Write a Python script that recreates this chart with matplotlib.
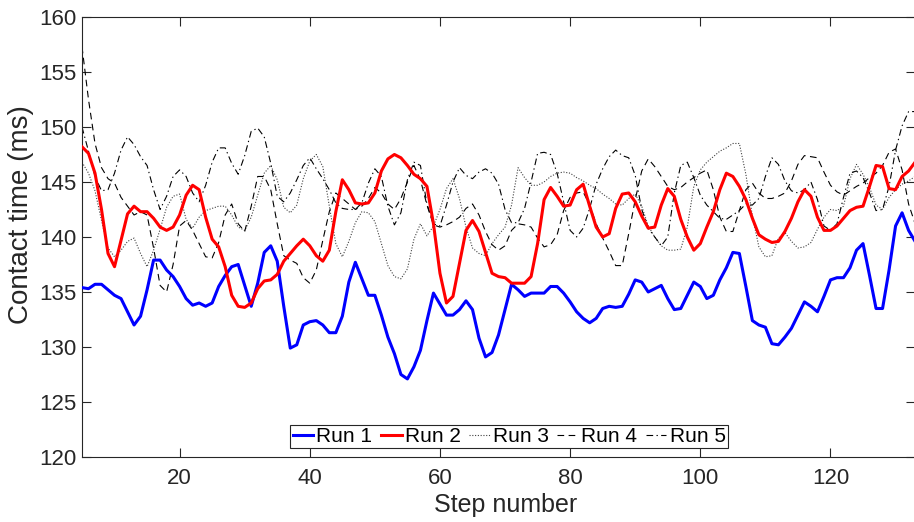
import numpy as np
import matplotlib
matplotlib.use("Agg")
import matplotlib.pyplot as plt

# step numbers shared by every run
steps = np.arange(5, 134)

# contact time per step (ms)
run1 = [135.4, 135.3, 135.7, 135.7, 135.2, 134.7, 134.4, 133.2, 132.0, 132.8,
        135.2, 137.9, 137.9, 137.0, 136.4, 135.5, 134.4, 133.8, 134.0, 133.7,
        134.0, 135.5, 136.5, 137.3, 137.5, 135.6, 133.7, 135.8, 138.6, 139.2,
        137.8, 133.7, 129.9, 130.2, 132.0, 132.3, 132.4, 132.0, 131.3, 131.3,
        132.8, 135.9, 137.7, 136.2, 134.7, 134.7, 132.9, 130.9, 129.4, 127.5,
        127.1, 128.2, 129.7, 132.4, 134.9, 133.9, 132.9, 132.9, 133.4, 134.2,
        133.4, 130.8, 129.1, 129.5, 131.1, 133.4, 135.7, 135.2, 134.6, 134.9,
        134.9, 134.9, 135.5, 135.5, 134.9, 134.1, 133.2, 132.6, 132.2, 132.6,
        133.5, 133.7, 133.6, 133.7, 134.8, 136.1, 135.9, 135.0, 135.3, 135.6,
        134.4, 133.4, 133.5, 134.7, 135.9, 135.5, 134.4, 134.7, 136.1, 137.2,
        138.6, 138.5, 135.5, 132.4, 132.0, 131.8, 130.3, 130.2, 130.9, 131.7,
        132.9, 134.1, 133.7, 133.2, 134.6, 136.1, 136.3, 136.3, 137.2, 138.8,
        139.4, 136.5, 133.5, 133.5, 137.0, 141.0, 142.2, 140.6, 139.6]

run2 = [148.2, 147.6, 145.8, 142.5, 138.5, 137.3, 139.7, 142.1, 142.8, 142.3,
        142.3, 141.7, 140.9, 140.6, 140.9, 142.0, 143.8, 144.7, 144.3, 141.8,
        139.8, 139.1, 137.3, 134.7, 133.7, 133.6, 134.0, 135.3, 136.0, 136.1,
        136.6, 137.8, 138.5, 139.2, 139.8, 139.2, 138.3, 137.8, 138.8, 142.3,
        145.2, 144.3, 143.1, 143.0, 143.1, 144.0, 146.0, 147.1, 147.5, 147.2,
        146.5, 145.7, 145.3, 144.6, 141.2, 136.7, 134.0, 134.6, 137.6, 140.6,
        141.5, 140.5, 138.6, 136.7, 136.4, 136.3, 135.8, 135.8, 135.8, 136.4,
        139.4, 143.4, 144.5, 143.7, 142.8, 142.9, 144.3, 144.8, 142.8, 140.9,
        140.0, 140.3, 142.6, 143.9, 144.0, 143.2, 141.9, 140.8, 140.9, 142.9,
        144.4, 143.7, 141.6, 140.0, 138.8, 139.4, 140.9, 142.3, 144.3, 145.8,
        145.5, 144.6, 143.4, 141.7, 140.2, 139.8, 139.5, 139.6, 140.5, 141.7,
        143.2, 144.3, 143.7, 141.8, 140.6, 140.6, 141.0, 141.7, 142.4, 142.7,
        142.8, 144.6, 146.5, 146.4, 144.4, 144.3, 145.5, 146.0, 146.8]

run3 = [146.8, 145.8, 144.2, 141.5, 139.0, 138.2, 138.8, 139.6, 139.9, 138.5,
        137.3, 138.8, 140.7, 142.7, 143.7, 143.9, 141.6, 140.8, 141.8, 142.4,
        142.6, 142.8, 142.8, 142.0, 140.9, 140.6, 141.8, 143.8, 145.8, 146.5,
        145.2, 142.7, 142.2, 142.9, 145.3, 146.9, 147.5, 146.4, 142.8, 139.4,
        138.2, 139.6, 141.3, 142.3, 142.2, 141.4, 139.4, 137.4, 136.4, 136.2,
        137.1, 139.8, 141.2, 140.1, 141.0, 142.5, 144.4, 145.3, 143.5, 140.9,
        139.0, 138.5, 138.3, 139.4, 140.2, 140.9, 142.9, 146.3, 145.4, 144.7,
        144.7, 145.0, 145.5, 145.8, 145.9, 145.8, 145.4, 145.1, 144.7, 144.4,
        143.9, 143.5, 143.0, 142.9, 143.5, 143.9, 142.8, 141.0, 140.0, 139.2,
        138.8, 138.8, 138.9, 140.9, 144.6, 146.1, 146.8, 147.3, 147.8, 148.1,
        148.5, 148.5, 145.7, 141.9, 139.1, 138.2, 138.3, 139.9, 140.4, 139.6,
        139.0, 139.1, 139.5, 140.7, 141.8, 142.5, 142.4, 142.8, 145.3, 146.6,
        145.7, 144.5, 142.9, 142.5, 143.6, 144.3, 144.8, 145.1, 145.5]

run4 = [157.3, 152.5, 148.5, 146.3, 145.3, 144.9, 143.6, 142.8, 142.0, 142.3,
        142.0, 139.0, 135.6, 135.0, 137.5, 141.0, 141.5, 140.6, 139.4, 138.2,
        138.1, 139.5, 142.0, 143.0, 141.2, 140.5, 142.8, 145.5, 145.5, 144.3,
        141.2, 138.3, 137.9, 137.6, 136.3, 135.8, 137.0, 139.7, 142.3, 144.0,
        143.5, 143.0, 142.5, 142.8, 143.5, 144.5, 144.0, 143.0, 142.5, 143.5,
        145.0, 146.5, 145.2, 142.9, 141.1, 140.9, 141.1, 141.4, 141.8, 142.6,
        143.0, 142.0, 140.5, 139.3, 138.8, 139.2, 140.6, 141.2, 141.1, 140.9,
        139.9, 139.1, 139.3, 140.2, 142.4, 143.6, 144.0, 144.1, 142.9, 141.2,
        139.9, 138.7, 137.4, 137.4, 140.3, 143.4, 146.0, 147.1, 146.4, 145.5,
        144.6, 144.3, 144.5, 145.0, 145.4, 145.8, 146.1, 144.3, 141.8, 140.5,
        140.5, 142.4, 144.3, 144.9, 144.0, 143.5, 143.5, 143.7, 144.0, 145.1,
        146.6, 147.4, 147.3, 147.2, 145.9, 144.7, 144.1, 143.8, 144.2, 144.6,
        144.9, 145.4, 145.8, 146.5, 147.7, 148.0, 146.1, 143.0, 141.2]

run5 = [150.0, 147.8, 145.5, 144.2, 144.3, 145.8, 147.9, 149.1, 148.4, 147.3,
        146.5, 144.3, 142.5, 143.7, 145.5, 146.1, 145.5, 144.0, 143.2, 144.7,
        146.8, 148.1, 148.1, 146.7, 145.7, 147.4, 149.6, 149.9, 149.1, 146.7,
        143.7, 143.2, 144.0, 145.2, 146.5, 147.2, 146.2, 145.3, 144.3, 143.1,
        142.6, 142.5, 142.5, 143.1, 144.9, 146.2, 145.5, 142.8, 141.1, 142.2,
        145.2, 146.8, 146.5, 143.0, 141.2, 141.0, 142.9, 145.0, 146.3, 145.6,
        145.3, 145.9, 146.2, 145.8, 144.8, 142.5, 141.3, 141.3, 142.6, 145.0,
        147.6, 147.7, 147.5, 145.8, 143.2, 140.6, 140.0, 140.8, 142.6, 144.8,
        146.2, 147.3, 147.9, 147.4, 147.2, 145.6, 142.5, 140.8, 140.0, 139.2,
        140.0, 144.0, 146.5, 146.8, 145.4, 143.8, 142.9, 142.3, 141.7, 141.6,
        142.0, 142.4, 143.0, 142.9, 143.5, 145.5, 147.2, 146.6, 145.1, 144.2,
        144.0, 144.3, 145.0, 143.4, 141.0, 140.6, 141.2, 143.6, 145.8, 146.0,
        145.4, 144.0, 142.4, 142.5, 144.6, 147.9, 150.1, 151.4, 151.4]

labels = ['Run 1', 'Run 2', 'Run 3', 'Run 4', 'Run 5']
xticks = [20, 40, 60, 80, 100, 120]
yticks = [120, 125, 130, 135, 140, 145, 150, 155, 160]

plt.rcParams['font.family'] = ['Liberation Sans', 'DejaVu Sans']
ink = '#262626'

fig = plt.figure(figsize=(9.14, 5.22), dpi=100)
ax = fig.add_axes([0.0897, 0.1245, 0.9115, 0.843])

ax.plot(steps, run1, color='#0000ff', lw=2.2, label=labels[0], zorder=5)
ax.plot(steps, run2, color='#ff0000', lw=2.2, label=labels[1], zorder=5)
ax.plot(steps, run3, color='0.25', lw=0.8, ls=(0, (1, 1.5)), label=labels[2])
ax.plot(steps, run4, color='k', lw=0.8, ls=(0, (6, 4)), label=labels[3])
ax.plot(steps, run5, color='k', lw=0.8, ls=(0, (6, 3, 1.2, 3)), label=labels[4])

ax.set_xlim(5, 133)
ax.set_ylim(120, 160)
ax.set_xticks(xticks)
ax.set_yticks(yticks)

ax.tick_params(direction='in', length=6.5, width=0.8, colors=ink,
               top=True, right=True, labelsize=16)
ax.tick_params(axis='x', pad=8)
ax.tick_params(axis='y', pad=4)
for sp in ax.spines.values():
    sp.set_color(ink)
    sp.set_linewidth(0.8)

ax.set_xlabel('Step number', fontsize=18, color=ink, labelpad=3)
ax.set_ylabel('Contact time (ms)', fontsize=20, color=ink, labelpad=4)
ax.xaxis.label.set_x(0.508)
ax.yaxis.label.set_y(0.55)

leg = ax.legend(loc='lower center', bbox_to_anchor=(0.5126, 0.02), ncol=5,
                fontsize=15, frameon=True, fancybox=False, framealpha=1,
                edgecolor=ink, handlelength=1.0, handletextpad=0.15,
                columnspacing=0.4, borderpad=0.1, borderaxespad=0)
leg.get_frame().set_linewidth(0.8)

fig.savefig('out.png', dpi=100)
plt.close(fig)
